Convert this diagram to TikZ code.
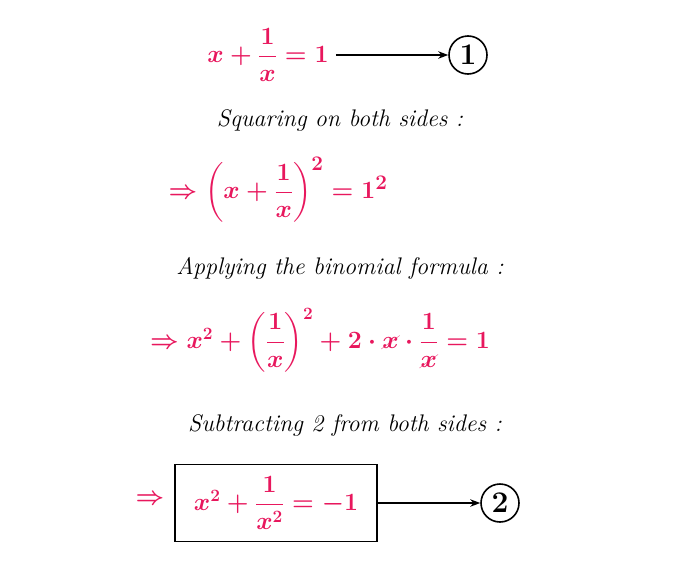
\documentclass[tikz,border=0pt]{standalone}
\usepackage{amsmath}
\usepackage{cancel}
\usepackage{fontspec}
\usetikzlibrary{arrows.meta}
\definecolor{pk}{HTML}{E8175D}
\begin{document}
\begin{tikzpicture}[x=1pt,y=-1pt,
  eq/.style={text=pk,inner sep=1pt},
  lbl/.style={text=black,font=\fontsize{24}{28}\selectfont\itshape,inner sep=1pt},
  arr/.style={-{Stealth[length=10pt]},line width=1.4pt},
  num/.style={circle,draw,line width=1.6pt,minimum size=38pt,font=\fontsize{30}{32}\selectfont\bfseries,inner sep=0pt}]
\useasboundingbox[fill=white] (0,0) rectangle (700,581);
\node[eq,font=\fontsize{24}{28}\selectfont] (e1) at (268,55) {$\boldsymbol{x+\dfrac{1}{x}=1}$};
\node[num] (c1) at (468,55) {1};
\draw[arr] (e1.east) ++(6,0) coordinate (a1) (a1) -- (c1.west);
\node[lbl] (l1) at (340,120) {Squaring on both sides :};
\node[eq,font=\fontsize{31}{36}\selectfont] (e2) at (278,190) {$\boldsymbol{\Rightarrow\left(x+\dfrac{1}{x}\right)^{2}=1^{2}}$};
\node[lbl] (l2) at (340,268) {Applying the binomial formula :};
\node[eq,font=\fontsize{26}{30}\selectfont] (e3) at (320,340) {$\boldsymbol{\Rightarrow x^{2}+\left(\dfrac{1}{x}\right)^{2}+2\cdot \cancel{x}\cdot\dfrac{1}{\cancel{x}}=1}$};
\node[lbl] (l3) at (345,425) {Subtracting 2 from both sides :};
\node[eq,font=\fontsize{30}{34}\selectfont] (imp) at (150,500) {$\boldsymbol{\Rightarrow}$};
\node[draw=black,line width=1.6pt,minimum width=202pt,minimum height=77pt] (box) at (276,503) {};
\node[eq,font=\fontsize{27}{32}\selectfont] (e4) at (276,503) {$\boldsymbol{x^{2}+\dfrac{1}{x^{2}}=-1}$};
\node[num] (c2) at (500,503) {2};
\draw[arr] (box.east) -- (c2.west);
\end{tikzpicture}
\end{document}
